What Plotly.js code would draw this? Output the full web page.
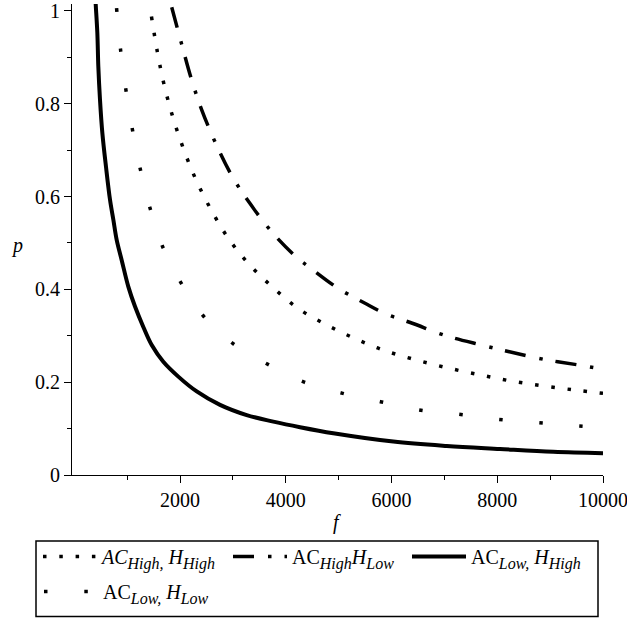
<!DOCTYPE html>
<html>
<head>
<meta charset="utf-8">
<script src="https://cdn.plot.ly/plotly-3.0.1.min.js"></script>
<style>html,body{margin:0;padding:0;background:#fff;}#chart{width:627px;height:622px;}</style>
</head>
<body>
<div id="chart"></div>
<script>
// AC_High, H_High (dotted)
var fHighHigh = [1460, 1571, 1697, 1862, 2062, 2303, 2581, 2908, 3299, 3740, 4207, 4748, 5310, 5877, 6463, 7055, 7661, 8241, 8871, 9476, 10000];
var pHighHigh = [0.988, 0.912, 0.842, 0.772, 0.704, 0.636, 0.573, 0.511, 0.455, 0.406, 0.361, 0.325, 0.294, 0.268, 0.248, 0.231, 0.216, 0.203, 0.192, 0.183, 0.176];
// AC_High H_Low (dash-dot)
var fHighLow = [1843, 2032, 2221, 2410, 2681, 2989, 3311, 3734, 4207, 4445, 4994, 5499, 5877, 6393, 7031, 7706, 8209, 8890, 9597, 10000];
var pHighLow = [1.008, 0.928, 0.851, 0.787, 0.713, 0.643, 0.587, 0.524, 0.469, 0.448, 0.402, 0.370, 0.348, 0.327, 0.300, 0.280, 0.266, 0.249, 0.236, 0.228];
// AC_Low, H_High (solid)
var fLowHigh = [390, 406, 436, 455, 487, 531, 600, 676, 739, 803, 897, 1022, 1149, 1306, 1465, 1684, 1968, 2316, 2757, 3261, 3765, 4270, 4899, 6034, 7044, 8052, 9060, 10000];
var pLowHigh = [1.045, 1.013, 0.953, 0.880, 0.808, 0.737, 0.664, 0.593, 0.550, 0.506, 0.463, 0.406, 0.363, 0.319, 0.280, 0.244, 0.212, 0.180, 0.151, 0.129, 0.115, 0.103, 0.090, 0.072, 0.0625, 0.056, 0.050, 0.047];
// AC_Low, H_Low (sparse dots)
var fLowLow = [800, 878, 979, 1105, 1257, 1446, 1697, 2051, 2478, 3040, 3702, 4351, 5077, 5788, 6520, 7271, 8001, 8752, 9508, 10000];
var pLowLow = [1.006, 0.914, 0.828, 0.741, 0.655, 0.570, 0.485, 0.408, 0.338, 0.280, 0.236, 0.200, 0.176, 0.158, 0.140, 0.131, 0.120, 0.113, 0.106, 0.102];

var xTicks = [2000, 4000, 6000, 8000, 10000];
var xTickText = ['2000', '4000', '6000', '8000', '10000'];
var xMinor = [1000, 3000, 5000, 7000, 9000];
var yTicks = [0, 0.2, 0.4, 0.6, 0.8, 1];
var yTickText = ['0', '0.2', '0.4', '0.6', '0.8', '1'];

function sb(t) { return '<sub><span style="font-size:16px"><i>' + t + '</i></span></sub>'; }
var names = [
  '<i>AC</i>' + sb('High,') + ' <i>H</i>' + sb('High'),
  'AC' + sb('High') + '<i>H</i>' + sb('Low'),
  'AC' + sb('Low,') + ' <i>H</i>' + sb('High'),
  'AC' + sb('Low,') + ' <i>H</i>' + sb('Low')
];

var traces = [
  {x: fHighHigh, y: pHighHigh, name: names[0], mode: 'lines', legend: 'legend',
   line: {color: '#000', width: 3.5, dash: '3.5px,12.8px', shape: 'spline'}},
  {x: fHighLow, y: pHighLow, name: names[1], mode: 'lines', legend: 'legend2',
   line: {color: '#000', width: 3.5, dash: '21px,14px,3.5px,13px', shape: 'spline'}},
  {x: fLowHigh, y: pLowHigh, name: names[2], mode: 'lines', legend: 'legend3',
   line: {color: '#000', width: 4, shape: 'spline'}},
  {x: fLowLow, y: pLowLow, name: names[3], mode: 'lines', legend: 'legend4',
   line: {color: '#000', width: 3.5, dash: '3.5px,36.8px', shape: 'spline'}}
];

var L = 72, R = 24, T = 4, B = 147, W = 627, H = 622;
var pw = W - L - R, ph = H - T - B;
function px2x(px) { return (px - L) / pw; }
function px2y(py) { return (H - B - py) / ph; }

var font = {family: 'Liberation Serif', size: 20, color: '#000'};

function leg(xpx, ypx) {
  return {
    orientation: 'h', xref: 'paper', yref: 'paper',
    x: px2x(xpx), y: px2y(ypx), xanchor: 'left', yanchor: 'top',
    itemwidth: 54, bgcolor: 'rgba(0,0,0,0)', borderwidth: 0, font: font
  };
}

var layout = {
  width: W, height: H,
  margin: {l: L, r: R, t: T, b: B},
  paper_bgcolor: '#fff', plot_bgcolor: '#fff',
  font: font,
  showlegend: true,
  xaxis: {
    range: [-43, 10000], showgrid: false, zeroline: false,
    showline: true, linecolor: '#000', linewidth: 1,
    tickmode: 'array', tickvals: xTicks, ticktext: xTickText,
    ticks: 'outside', ticklen: 7, tickcolor: '#000', tickwidth: 1,
    minor: {tickmode: 'array', tickvals: xMinor, ticks: 'outside', ticklen: 4, tickcolor: '#000', showgrid: false},
    tickfont: font, ticklabeloverflow: 'allow'
  },
  yaxis: {
    range: [0, 1.015], showgrid: false, zeroline: false,
    showline: true, linecolor: '#000', linewidth: 1,
    tickmode: 'array', tickvals: yTicks, ticktext: yTickText,
    ticks: 'outside', ticklen: 7, tickcolor: '#000', tickwidth: 1,
    minor: {dtick: 0.1, tick0: 0, ticks: 'outside', ticklen: 4, tickcolor: '#000', showgrid: false},
    tickfont: font, ticklabeloverflow: 'allow'
  },
  legend: leg(38, 537),
  legend2: leg(228, 537),
  legend3: leg(407, 537),
  legend4: leg(39, 572),
  shapes: [
    {type: 'rect', xref: 'paper', yref: 'paper',
     x0: px2x(36), x1: px2x(598), y0: px2y(541), y1: px2y(616.5),
     line: {color: '#000', width: 1.5}, fillcolor: 'rgba(0,0,0,0)'}
  ],
  annotations: [
    {text: '<i>p</i>', xref: 'paper', yref: 'paper', x: px2x(17), y: px2y(245),
     xanchor: 'center', yanchor: 'middle', showarrow: false, font: font},
    {text: '<i>f</i>', xref: 'paper', yref: 'paper', x: px2x(337), y: px2y(522),
     xanchor: 'center', yanchor: 'middle', showarrow: false, font: font}
  ]
};

Plotly.newPlot('chart', traces, layout, {displayModeBar: false, staticPlot: true});
</script>
</body>
</html>
